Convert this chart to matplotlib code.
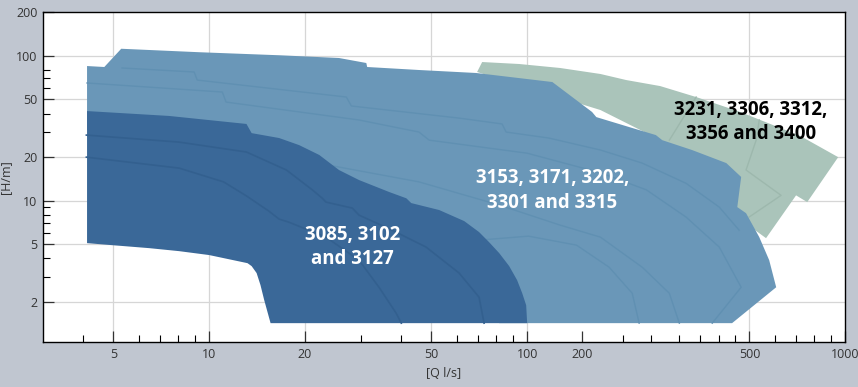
import numpy as np
import matplotlib
matplotlib.use("Agg")
import matplotlib.pyplot as plt

plt.rcParams['font.family'] = ['Open Sans', 'DejaVu Sans']

################ pump range outlines, Q [l/s] vs H [m] ################
# dark blue: 3085, 3102, 3127
small_q = [4.13, 7.48, 13.1, 13.6, 16.6, 19.2, 22.2, 25.6, 29.6, 36.8, 41.7, 43.2, 52.9, 63.4, 70.6, 75.9,
           81.7, 87.8, 93.0, 96.5, 99.3, 100,
           15.6, 14.9, 14.5, 14.1, 13.6, 13.2, 10.0, 8.05, 6.48, 4.13]
small_h = [41.6, 38.5, 33.9, 29.3, 27.1, 24.2, 20.7, 16.3, 13.9, 11.5, 10.4, 9.64, 8.63, 7.24, 6.08, 5.18,
           4.35, 3.54, 2.83, 2.30, 1.90, 1.43,
           1.43, 2.06, 2.62, 3.17, 3.54, 3.71, 4.22, 4.49, 4.71, 5.10]
small_lines = [
    ([4.11, 8.05, 13.1, 17.5, 21.1, 22.7, 23.3, 28.2, 29.6, 37.6, 48.1, 61.1, 70.6, 73.2],
     [28.4, 25.4, 21.7, 16.3, 11.9, 10.4, 9.79, 8.90, 7.96, 6.27, 4.79, 3.17, 2.16, 1.43]),
    ([4.11, 8.05, 11.1, 13.1, 15.4, 16.6, 17.8, 23.3, 29.6, 34.2, 38.7, 40.2],
     [20.0, 16.8, 13.5, 10.8, 8.49, 7.47, 7.12, 5.61, 3.89, 2.53, 1.68, 1.43]),
]

# medium blue: 3153, 3171, 3202, 3301, 3315
mid_q = [4.13, 4.68, 5.29, 9.30, 16.6, 25.6, 31.2, 31.4, 45.7, 69.1, 120, 160, 165, 209, 254, 266, 330,
         423, 471, 458, 488, 537, 577, 607, 441, 81.7, 19.2, 4.13]
mid_h = [85.1, 83.8, 112, 106, 101, 96.7, 89.3, 83.8, 79.9, 76.2, 66.0, 41.0, 37.8, 32.3, 28.4, 26.2, 22.4,
         18.2, 14.6, 9.04, 8.21, 5.61, 3.89, 2.53, 1.43, 1.43, 10.1, 30.8]
mid_lines = [
    ([5.32, 8.97, 9.17, 27.0, 28.0, 61.1, 83.4, 85.9, 117, 170, 230, 316, 402, 464],
     [82.5, 77.4, 68.1, 52.0, 45.1, 37.2, 33.9, 29.8, 27.1, 22.4, 18.2, 13.2, 9.04, 6.27]),
    ([4.13, 11.0, 11.3, 29.6, 45.7, 49.2, 100, 170, 237, 316, 402, 471, 382],
     [65.0, 56.3, 48.0, 36.1, 29.8, 26.2, 21.3, 15.6, 11.9, 7.72, 4.79, 2.53, 1.43]),
    ([23.8, 45.7, 81.7, 127, 170, 230, 280, 301],
     [17.6, 13.5, 9.34, 6.79, 5.61, 3.48, 2.30, 1.43]),
    ([70.6, 101, 143, 181, 214, 225],
     [5.35, 5.70, 4.94, 3.48, 2.30, 1.43]),
]

# green: 3231, 3306, 3312, 3356, 3400
big_q = [72.2, 94.4, 127, 170, 205, 262, 340, 468, 723, 951, 760, 701, 564, 481, 448, 350, 170, 69.6]
big_h = [90.7, 87.9, 82.5, 75.0, 68.1, 61.9, 52.0, 41.0, 28.0, 20.0, 9.79, 10.9, 5.52, 7.12, 9.34, 19.1, 42.3, 77.4]
big_lines = [
    ([340, 280], [52.0, 26.2]),
    ([537, 525, 488, 629, 499], [36.1, 26.2, 16.3, 10.9, 7.72]),
]

labels = ["3085, 3102\nand 3127", "3153, 3171, 3202,\n3301 and 3315", "3231, 3306, 3312,\n3356 and 3400"]
label_q = [28.2, 120, 505]
label_h = [4.79, 11.8, 34.9]
label_col = ["white", "white", "black"]

x_major = [5, 10, 20, 50, 100, 149, 500, 1000]
x_major_lbl = ["5", "10", "20", "50", "100", "200", "500", "1000"]
x_minor = [4, 6, 7, 8, 9, 30, 40, 60, 70, 80, 90, 200, 245, 300, 350, 400, 450, 600, 700, 800, 900]
y_major = [2, 5, 10, 20, 50, 100, 200]
y_minor = [3, 4, 6, 7, 8, 9, 30, 40, 60, 70, 80]
x_grid = [5, 10, 20, 50, 100, 500]
y_grid = [2, 5, 10, 20, 50, 100]

################ figure ################
fig = plt.figure(figsize=(8.58, 3.87), dpi=100, facecolor='#c0c6d0')
ax = fig.add_axes([0.050, 0.1163, 0.935, 0.852])
ax.set_xscale('log')
ax.set_yscale('log')
ax.set_xlim(3.0, 1000)
ax.set_ylim(1.06, 200)

for v in x_grid:
    ax.axvline(v, color='#d6d6d6', lw=0.9, zorder=0)
for v in y_grid:
    ax.axhline(v, color='#d6d6d6', lw=0.9, zorder=0)

ax.fill(big_q, big_h, color='#aac4ba', lw=0, zorder=1)
for q, h in big_lines:
    ax.plot(q, h, color='#9db8ad', lw=1.0, zorder=1.5)
ax.fill(mid_q, mid_h, color='#6a97b8', lw=0, zorder=2)
for q, h in mid_lines:
    ax.plot(q, h, color='#6090b2', lw=1.0, zorder=2.5)
ax.fill(small_q, small_h, color='#3a6898', lw=0, zorder=3)
for q, h in small_lines:
    ax.plot(q, h, color='#33608f', lw=1.2, zorder=3.5)

for t, q, h, c in zip(labels, label_q, label_h, label_col):
    ax.text(q, h, t, color=c, ha='center', va='center', fontsize=13.4,
            fontweight='bold', linespacing=1.3, zorder=5)

ax.set_xticks(x_major)
ax.set_xticklabels(x_major_lbl)
ax.set_xticks(x_minor, minor=True)
ax.set_xticklabels([], minor=True)
ax.set_yticks(y_major)
ax.set_yticklabels([str(v) for v in y_major])
ax.set_yticks(y_minor, minor=True)
ax.set_yticklabels([], minor=True)
ax.tick_params(which='major', direction='in', length=8, width=0.9, labelsize=9, colors='#333333', pad=4)
ax.tick_params(which='minor', direction='in', length=5, width=0.8)
for s in ax.spines.values():
    s.set_color('black')
    s.set_linewidth(1.0)

ax.set_xlabel('[Q l/s]', fontsize=9, color='#333333', labelpad=5)
ax.set_ylabel('[H/m]', fontsize=9, color='#333333')
ax.yaxis.set_label_coords(-0.038, 0.5)

fig.savefig('out.png', dpi=100, facecolor=fig.get_facecolor())
